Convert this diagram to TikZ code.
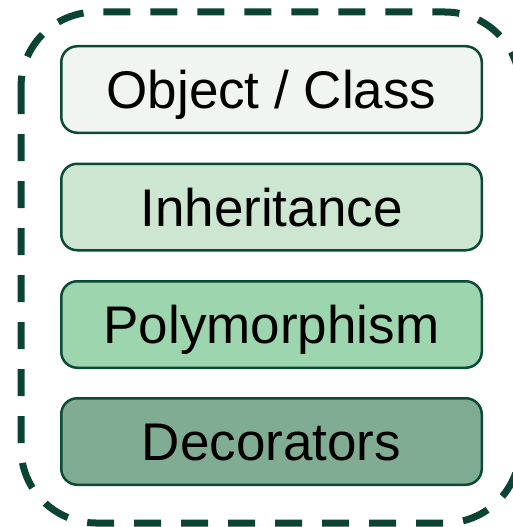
\documentclass[tikz,border=0pt]{standalone}
\usepackage{fontspec}
\setmainfont{Liberation Sans}
\definecolor{framegreen}{HTML}{0B4434}
\definecolor{edgegreen}{HTML}{0B4A36}
\definecolor{fillA}{HTML}{F0F5F1}
\definecolor{fillB}{HTML}{CCE6D1}
\definecolor{fillC}{HTML}{9DD5AE}
\definecolor{fillD}{HTML}{80AC94}
\tikzset{
  layerbox/.style={draw=edgegreen, line width=2.5pt, rounded corners=16pt,
    minimum width=420.5pt, minimum height=86.5pt, inner sep=0pt,
    text height=38pt, text depth=0pt,
    font=\fontsize{53}{62}\selectfont, text=black},
  groupframe/.style={draw=framegreen, line width=7pt, rounded corners=75pt,
    dash pattern=on 27pt off 20pt}
}
\begin{document}
\begin{tikzpicture}[x=1pt, y=-1pt]
  \useasboundingbox (0,0) rectangle (513,527);
  % dashed frame around the stack
  \draw[groupframe] (21,12) rectangle (520,523);
  % stacked concept boxes
  \node[layerbox, fill=fillA] (obj)  at (271.5,89.5)  {Object / Class};
  \node[layerbox, fill=fillB] (inh)  at (271.5,207)   {Inheritance};
  \node[layerbox, fill=fillC] (poly) at (271.5,324.5) {Polymorphism};
  \node[layerbox, fill=fillD] (deco) at (271.5,441.5) {Decorators};
\end{tikzpicture}
\end{document}
